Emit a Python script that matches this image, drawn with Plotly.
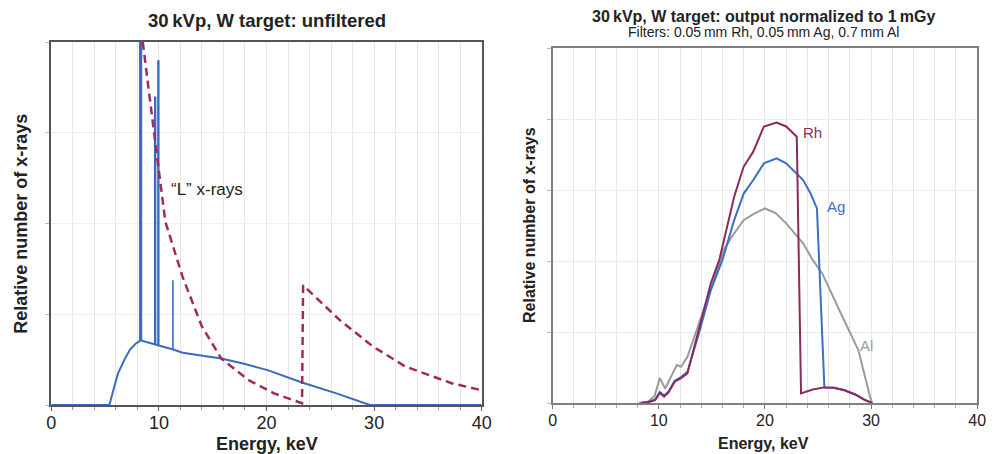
import numpy as np
import plotly.graph_objects as go

# ---------------- Left panel: 30 kVp, W target, unfiltered ----------------
cont_E = [0, 5.4, 5.8, 6.2, 6.8, 7.3, 7.8, 8.3, 9.0, 9.9, 10.5, 11.4, 12.2, 14.0, 15.8, 18.0, 20.1, 23.3, 26.5, 29.6, 40]
cont_y = [0, 0, 4.5, 8.7, 12.5, 15.2, 16.8, 17.8, 17.2, 16.5, 16.0, 15.2, 14.4, 13.6, 12.8, 11.3, 9.6, 6.2, 3.2, 0, 0]
lline_E = [8.3, 9.65, 9.95, 11.3]
lline_top = [110, 85, 95, 34.4]
lline_w = [3.2, 2.4, 2.4, 1.6]
atten_E = [8.5, 9.1, 9.9, 10.6, 12.2, 14.0, 15.8, 18.3, 20.7, 22.9, 23.3, 23.4, 26.8, 29.9, 32.9, 37.2, 40.5]
atten_y = [100, 85, 66.7, 50.5, 35.3, 21.6, 12.8, 6.9, 3.2, 0.9, 0.5, 33.0, 23.4, 16.1, 10.6, 6.0, 3.7]

# ---------------- Right panel: filtered, normalized to 1 mGy ----------------
rh_E = [8.3, 9.0, 9.65, 10.1, 10.5, 10.9, 11.5, 12.1, 12.7, 13.7, 14.9, 15.7, 17.1, 18.0, 18.9, 19.9, 21.1, 22.0, 23.0, 23.4,
        24.5, 25.6, 26.5, 27.5, 28.5, 29.4, 30.1]
rh_y = [0, 0.2, 0.8, 2.8, 1.8, 2.9, 6.0, 7.0, 8.4, 19.6, 33.7, 40.3, 58.1, 66.6, 70.8, 77.9, 79.0, 77.9, 75.0, 2.7,
        3.8, 4.4, 4.3, 3.6, 2.4, 0.9, 0]
ag_E = [8.3, 9.0, 9.65, 10.1, 10.5, 10.9, 11.5, 12.1, 12.7, 13.7, 14.9, 16.0, 17.1, 18.0, 18.9, 19.9, 21.1, 22.0, 23.6, 24.3,
        24.9, 25.6, 26.5, 27.5, 28.5, 29.4, 30.1]
ag_y = [0, 0.3, 1.0, 3.1, 2.1, 3.2, 6.3, 7.3, 8.8, 18.8, 31.8, 40.3, 51.5, 59.0, 62.8, 67.5, 68.9, 67.5, 62.8, 59.0,
        54.8, 4.4, 4.3, 3.6, 2.4, 0.9, 0]
al_E = [8.1, 9.0, 9.6, 10.1, 10.6, 11.7, 12.1, 12.7, 14.0, 15.2, 16.1, 17.1, 18.0, 18.9, 20.0, 21.0, 22.0, 23.6, 24.5, 25.4,
        27.3, 28.8, 29.9, 30.1]
al_y = [0, 0.4, 2.0, 7.0, 4.1, 10.7, 10.2, 13.0, 24.3, 34.6, 43.1, 47.8, 51.5, 53.2, 54.8, 53.5, 50.6, 45.0, 40.3, 36.5,
        24.3, 14.9, 1.8, 0]

x_ticks = [0, 10, 20, 30, 40]

BLUE = "#3a6bbf"
MAROON = "#a2285e"
RH = "#8b2a5c"
AG = "#3b70c2"
AL = "#9b9b9b"
FONT = "Liberation Sans, Arial, sans-serif"

W, H = 1001, 454

def px(x):
    return x / W

def py(y):
    return 1 - y / H

fig = go.Figure()

# left continuum
fig.add_trace(go.Scatter(x=cont_E, y=cont_y, mode="lines", line=dict(color=BLUE, width=2),
                         xaxis="x", yaxis="y", showlegend=False))
# characteristic L lines
for e, top, w in zip(lline_E, lline_top, lline_w):
    base = float(np.interp(e, cont_E, cont_y))
    fig.add_trace(go.Scatter(x=[e, e], y=[base, top], mode="lines", line=dict(color=BLUE, width=w),
                             xaxis="x", yaxis="y", showlegend=False))
# dashed curve
fig.add_trace(go.Scatter(x=atten_E, y=atten_y, mode="lines",
                         line=dict(color=MAROON, width=2.5, dash="8px,5px"),
                         xaxis="x", yaxis="y", showlegend=False))

# right panel
fig.add_trace(go.Scatter(x=al_E, y=al_y, mode="lines", line=dict(color=AL, width=2),
                         xaxis="x2", yaxis="y2", showlegend=False))
fig.add_trace(go.Scatter(x=ag_E, y=ag_y, mode="lines", line=dict(color=AG, width=2),
                         xaxis="x2", yaxis="y2", showlegend=False))
fig.add_trace(go.Scatter(x=rh_E, y=rh_y, mode="lines", line=dict(color=RH, width=2),
                         xaxis="x2", yaxis="y2", showlegend=False))

axis_common = dict(showgrid=True, gridwidth=1, zeroline=False, showline=True, mirror=True)

fig.update_layout(
    width=W, height=H, margin=dict(l=0, r=0, t=0, b=0),
    paper_bgcolor="white", plot_bgcolor="white",
    font=dict(family=FONT, color="#222"),
    xaxis=dict(domain=[px(47), px(484)], range=[0, 40], tickvals=x_ticks,
               ticks="outside", ticklen=4, tickcolor="#555", linecolor="#555", linewidth=1.6,
               tickfont=dict(size=18, color="#222"), ticklabelstandoff=-3, gridcolor="#e6e6e6",
               minor=dict(dtick=2, showgrid=True, gridcolor="#e6e6e6", ticks="outside", ticklen=3, tickcolor="#999"),
               anchor="y", **axis_common),
    yaxis=dict(domain=[py(405), py(42)], range=[0, 100], dtick=25, showticklabels=False,
               ticks="outside", ticklen=4, tickcolor="#bbb", linecolor="#555", linewidth=1.6,
               gridcolor="#f0f0f0", anchor="x", **axis_common),
    xaxis2=dict(domain=[px(556), px(987)], range=[0, 40], tickvals=x_ticks,
                ticks="outside", ticklen=4, tickcolor="#777", linecolor="#808080", linewidth=1.6,
                tickfont=dict(size=16, color="#222"), ticklabelstandoff=-2, gridcolor="#e6e6e6",
                minor=dict(dtick=2, showgrid=True, gridcolor="#e6e6e6", ticks="outside", ticklen=3, tickcolor="#aaa"),
                anchor="y2", **axis_common),
    yaxis2=dict(domain=[py(403), py(48)], range=[0, 100], dtick=20, showticklabels=False,
                ticks="outside", ticklen=4, tickcolor="#bbb", linecolor="#808080", linewidth=1.6,
                gridcolor="#ececec", anchor="x2", **axis_common),
)

ann = []
def text(x, y, s, size, bold=False, color="#222", angle=0, xanchor="center"):
    ann.append(dict(x=px(x), y=py(y), xref="paper", yref="paper", text=(f"<b>{s}</b>" if bold else s),
                    showarrow=False, font=dict(size=size, color=color, family=FONT),
                    textangle=angle, xanchor=xanchor, yanchor="middle"))

text(266, 20, "30\u2009kVp, W target: unfiltered", 18.5, bold=True)
text(770, 16, "30\u2009kVp, W target: output normalized to 1\u2009mGy", 16, bold=True)
text(770, 32, "Filters: 0.05\u2009mm Rh, 0.05\u2009mm Ag, 0.7\u2009mm Al", 14)
text(266, 444, "Energy, keV", 18, bold=True)
text(770, 443, "Energy, keV", 16, bold=True)
text(16, 224, "Relative number of x-rays", 18, bold=True, angle=-90)
text(533, 225, "Relative number of x-rays", 16, bold=True, angle=-90)
text(167, 190, "\u201cL\u201d x-rays", 17, xanchor="left")
text(808, 133, "Rh", 15, color=RH, xanchor="left")
text(832, 206, "Ag", 15, color=AG, xanchor="left")
text(866, 345, "Al", 15, color=AL, xanchor="left")

fig.update_layout(annotations=ann)
fig.write_html("out.html")
